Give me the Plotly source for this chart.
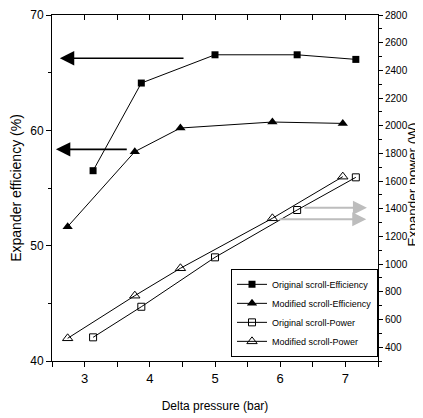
import plotly.graph_objects as go

x_orig = [3.13, 3.87, 5.0, 6.26, 7.16]
eff_orig = [56.5, 64.1, 66.55, 66.55, 66.15]
pow_orig = [471, 692, 1049, 1391, 1627]

x_mod = [2.74, 3.77, 4.47, 5.88, 6.96]
eff_mod = [51.65, 58.15, 60.2, 60.72, 60.6]
pow_mod = [464, 772, 970, 1331, 1632]

names = ["Original scroll-Efficiency", "Modified scroll-Efficiency",
         "Original scroll-Power", "Modified scroll-Power"]

REG = "Liberation Sans, Arial"

fig = go.Figure()
line = dict(color="black", width=1)
fig.add_trace(go.Scatter(x=x_orig, y=eff_orig, name=names[0], mode="lines+markers",
                         line=line, marker=dict(symbol="square", size=7, color="black")))
fig.add_trace(go.Scatter(x=x_mod, y=eff_mod, name=names[1], mode="lines+markers",
                         line=line, marker=dict(symbol="triangle-up", size=9, color="black")))
fig.add_trace(go.Scatter(x=x_orig, y=pow_orig, name=names[2], mode="lines+markers", yaxis="y2",
                         line=line, marker=dict(symbol="square-open", size=7, color="black",
                                                line=dict(width=1))))
fig.add_trace(go.Scatter(x=x_mod, y=pow_mod, name=names[3], mode="lines+markers", yaxis="y2",
                         line=line, marker=dict(symbol="triangle-up-open", size=9, color="black",
                                                line=dict(width=1))))

# top mirror axis with inside ticks
fig.add_trace(go.Scatter(x=[None], y=[None], xaxis="x2", showlegend=False, hoverinfo="skip"))

# arrows
for tip_x, tail_x, yv in [(2.62, 4.54, 66.25), (2.56, 3.67, 58.35)]:
    fig.add_annotation(x=tip_x, y=yv, ax=tail_x, ay=yv, xref="x", yref="y",
                       axref="x", ayref="y", text="", showarrow=True,
                       arrowhead=2, arrowsize=1.8, arrowwidth=1.6, arrowcolor="black", standoff=0)
for tip_x, tail_x, yv in [(7.33, 6.35, 1408), (7.32, 5.97, 1324)]:
    fig.add_annotation(x=tip_x, y=yv, ax=tail_x, ay=yv, xref="x", yref="y2",
                       axref="x", ayref="y2", text="", showarrow=True,
                       arrowhead=2, arrowsize=1.4, arrowwidth=2, arrowcolor="#bdbdbd", standoff=0)

# right axis title
fig.add_annotation(text="Expander power (W)", xref="paper", yref="paper",
                   x=1.107, y=0.51, xanchor="center", yanchor="middle", textangle=-90,
                   showarrow=False, font=dict(family=REG, size=13.5, color="black"))

# page body has an 8px margin; compensate so the plot area lands where the reference has it
fig.update_layout(
    width=415, height=410,
    margin=dict(l=44, r=45, t=7, b=57),
    paper_bgcolor="white", plot_bgcolor="white",
    showlegend=True,
    legend=dict(x=1, y=0.012, xanchor="right", yanchor="bottom",
                bgcolor="white", bordercolor="black", borderwidth=1,
                font=dict(family=REG, size=9, color="black"),
                tracegroupgap=0, itemwidth=30),
    xaxis=dict(range=[2.5, 7.5], dtick=1, tick0=3, ticks="outside", ticklen=5,
               tickcolor="black", showline=True, linecolor="black", linewidth=1,
               showgrid=False, zeroline=False, automargin=False,
               minor=dict(dtick=0.5, tick0=2.5, ticks="outside", ticklen=5, tickcolor="black"),
               tickfont=dict(family=REG, size=13, color="black"),
               title=dict(text="Delta pressure (bar)", font=dict(family=REG, size=12, color="black"),
                          standoff=17)),
    xaxis2=dict(range=[2.5, 7.5], overlaying="x", side="top", dtick=0.5, tick0=2.5,
                ticks="inside", ticklen=5, tickcolor="black", showticklabels=False,
                showline=True, linecolor="black", linewidth=1, showgrid=False, zeroline=False),
    yaxis=dict(range=[40, 70], dtick=10, ticks="outside", ticklen=5, tickcolor="black",
               showline=True, linecolor="black", linewidth=1, showgrid=False, zeroline=False,
               automargin=False,
               minor=dict(dtick=5, ticks="outside", ticklen=3, tickcolor="black"),
               tickfont=dict(family=REG, size=12, color="black"),
               title=dict(text="Expander efficiency (%)", font=dict(family=REG, size=14, color="black"),
                          standoff=5)),
    yaxis2=dict(range=[300, 2800], dtick=200, tick0=400, overlaying="y", side="right",
                ticks="outside", ticklen=4, tickcolor="black", automargin=False,
                showline=True, linecolor="black", linewidth=1, showgrid=False, zeroline=False,
                minor=dict(dtick=100, ticks="outside", ticklen=3, tickcolor="black"),
                tickfont=dict(family=REG, size=10, color="black")),
)

fig.write_html("out.html")
